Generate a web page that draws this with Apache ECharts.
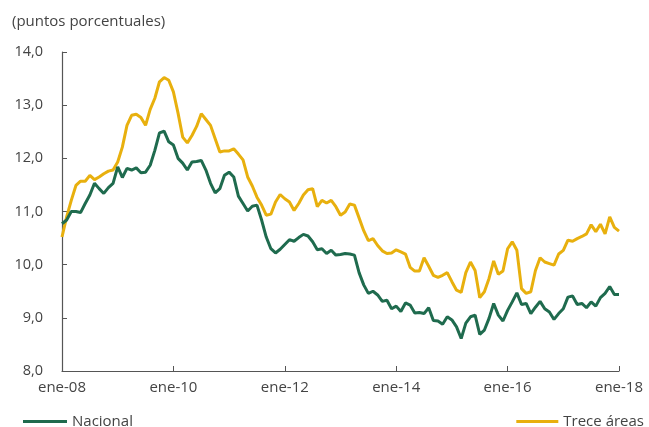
<!DOCTYPE html>
<html>
<head>
<meta charset="utf-8">
<script src="https://cdn.jsdelivr.net/npm/echarts@6/dist/echarts.min.js"></script>
<style>
html,body{margin:0;padding:0;background:#fff;}
#c{width:649px;height:427px;}
</style>
</head>
<body>
<div id="c"></div>
<script>
// Monthly categories: ene-08 .. ene-18
var monthNames = ['ene','feb','mar','abr','may','jun','jul','ago','sep','oct','nov','dic'];
var categories = [];
for (var y = 8; y <= 18; y++) {
  for (var m = 0; m < 12; m++) {
    if (y === 18 && m > 0) break;
    categories.push(monthNames[m] + '-' + (y < 10 ? '0' + y : '' + y));
  }
}

var nacional = [
  10.77, 10.84, 11.00, 11.00, 10.98, 11.15, 11.31, 11.53, 11.43, 11.34, 11.45, 11.53,
  11.84, 11.64, 11.81, 11.78, 11.82, 11.73, 11.74, 11.87, 12.15, 12.48, 12.51, 12.31,
  12.25, 12.00, 11.91, 11.78, 11.93, 11.94, 11.96, 11.78, 11.53, 11.35, 11.43, 11.68,
  11.74, 11.65, 11.29, 11.15, 11.01, 11.10, 11.12, 10.84, 10.52, 10.30, 10.22, 10.29,
  10.38, 10.47, 10.44, 10.51, 10.57, 10.54, 10.43, 10.28, 10.30, 10.21, 10.27, 10.18,
  10.19, 10.21, 10.20, 10.18, 9.85, 9.62, 9.46, 9.50, 9.43, 9.31, 9.33, 9.17,
  9.22, 9.12, 9.28, 9.24, 9.09, 9.10, 9.08, 9.19, 8.95, 8.94, 8.88, 9.02,
  8.96, 8.83, 8.61, 8.90, 9.02, 9.05, 8.69, 8.77, 8.99, 9.27, 9.05, 8.94,
  9.14, 9.30, 9.47, 9.25, 9.27, 9.08, 9.20, 9.31, 9.17, 9.11, 8.97, 9.08,
  9.17, 9.39, 9.41, 9.25, 9.27, 9.19, 9.30, 9.22, 9.38, 9.46, 9.59, 9.44,
  9.44
];

var treceAreas = [
  10.52, 10.90, 11.21, 11.49, 11.57, 11.57, 11.68, 11.60, 11.65, 11.71, 11.76, 11.78,
  11.93, 12.21, 12.62, 12.81, 12.83, 12.77, 12.62, 12.92, 13.13, 13.44, 13.52, 13.47,
  13.25, 12.85, 12.40, 12.29, 12.43, 12.60, 12.84, 12.73, 12.62, 12.37, 12.12, 12.14,
  12.14, 12.18, 12.08, 11.97, 11.65, 11.48, 11.27, 11.12, 10.93, 10.95, 11.18, 11.32,
  11.24, 11.18, 11.02, 11.15, 11.31, 11.41, 11.43, 11.09, 11.21, 11.16, 11.21, 11.09,
  10.93, 10.99, 11.14, 11.12, 10.88, 10.64, 10.45, 10.49, 10.36, 10.26, 10.21, 10.22,
  10.28, 10.24, 10.20, 9.95, 9.88, 9.88, 10.13, 9.97, 9.80, 9.76, 9.80, 9.85,
  9.68, 9.52, 9.48, 9.85, 10.05, 9.89, 9.38, 9.49, 9.74, 10.07, 9.82, 9.88,
  10.30, 10.43, 10.27, 9.55, 9.46, 9.49, 9.89, 10.13, 10.05, 10.02, 9.99, 10.20,
  10.27, 10.46, 10.44, 10.49, 10.53, 10.58, 10.75, 10.62, 10.76, 10.58, 10.90, 10.70,
  10.63
];

var yTicks = { min: 8, max: 14, interval: 1 };
var unitLabel = '(puntos porcentuales)';
var seriesNames = ['Nacional', 'Trece áreas'];
var colors = ['#1f6b4e', '#e8b00e'];

var FONT = 'Open Sans';
var chart = echarts.init(document.getElementById('c'), null, { renderer: 'canvas' });
chart.setOption({
  animation: false,
  backgroundColor: '#ffffff',
  textStyle: { fontFamily: FONT },
  title: {
    text: unitLabel,
    left: 7, top: 9,
    textStyle: { fontFamily: FONT, fontSize: 15, fontWeight: 'normal', color: '#444' }
  },
  grid: { left: 62, right: 30, top: 52, bottom: 56, containLabel: false },
  legend: [
    {
      data: [seriesNames[0]], left: 18, top: 409,
      icon: 'rect', itemWidth: 44, itemHeight: 3, itemGap: 5,
      textStyle: { fontFamily: FONT, fontSize: 15, color: '#444' }
    },
    {
      data: [seriesNames[1]], right: 0, top: 409,
      icon: 'rect', itemWidth: 42, itemHeight: 3, itemGap: 5,
      textStyle: { fontFamily: FONT, fontSize: 15, color: '#444' }
    }
  ],
  xAxis: {
    type: 'category',
    data: categories,
    boundaryGap: false,
    axisLine: { lineStyle: { color: '#555', width: 1.2 } },
    axisTick: { inside: true, length: 5, interval: 23, lineStyle: { color: '#555' } },
    axisLabel: { interval: 23, fontFamily: FONT, fontSize: 15, color: '#444', margin: 9 },
    splitLine: { show: false }
  },
  yAxis: {
    type: 'value',
    min: yTicks.min, max: yTicks.max, interval: yTicks.interval,
    axisLine: { show: true, lineStyle: { color: '#555', width: 1.2 } },
    axisTick: { show: true, inside: true, length: 5, lineStyle: { color: '#555' } },
    axisLabel: {
      fontFamily: FONT, fontSize: 14.5, color: '#444', margin: 19,
      formatter: function (v) { return v.toFixed(1).replace('.', ','); }
    },
    splitLine: { show: false }
  },
  series: [
    {
      name: seriesNames[0], type: 'line', data: nacional, showSymbol: false,
      lineStyle: { color: colors[0], width: 3 }, itemStyle: { color: colors[0] }, z: 3
    },
    {
      name: seriesNames[1], type: 'line', data: treceAreas, showSymbol: false,
      lineStyle: { color: colors[1], width: 3 }, itemStyle: { color: colors[1] }, z: 2
    }
  ]
});
</script>
</body>
</html>
